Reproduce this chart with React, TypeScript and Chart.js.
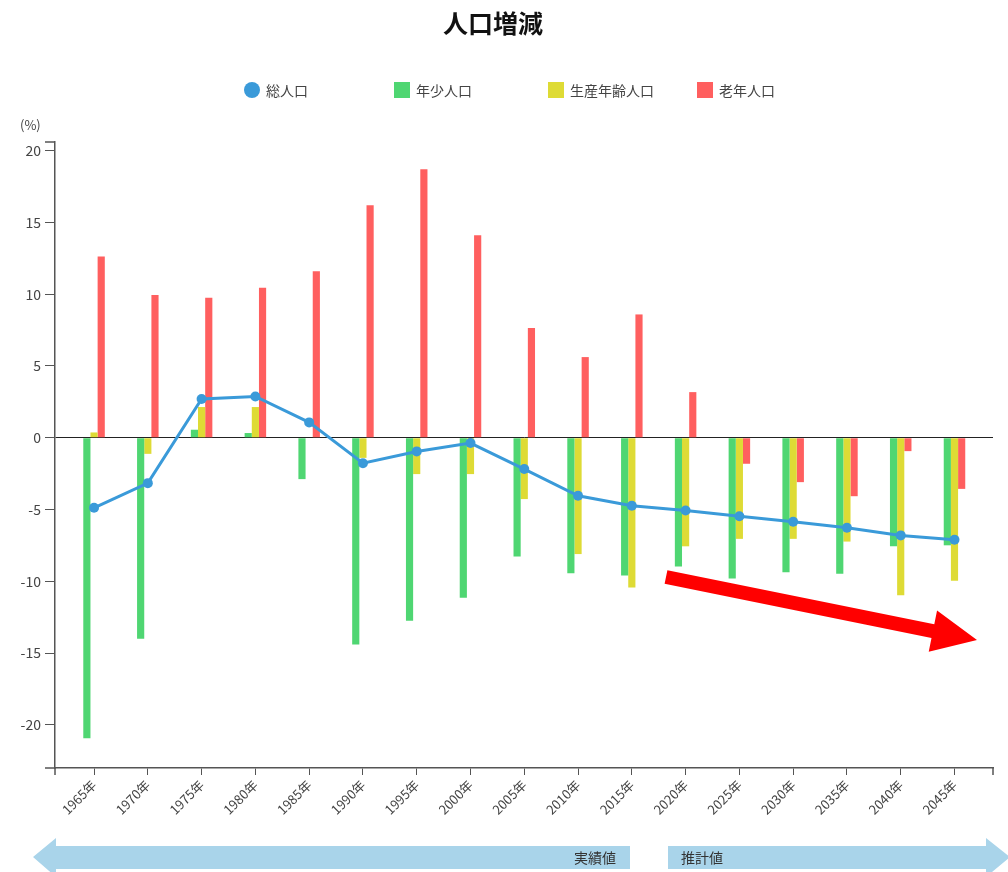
import React, { useEffect, useRef } from "react";
import { Chart, registerables } from "chart.js";

Chart.register(...registerables);

const title = "人口増減";
const seriesNames = ["総人口", "年少人口", "生産年齢人口", "老年人口"];
const years = [1965, 1970, 1975, 1980, 1985, 1990, 1995, 2000, 2005, 2010, 2015, 2020, 2025, 2030, 2035, 2040, 2045];
const total = [-4.88, -3.16, 2.7, 2.88, 1.07, -1.77, -0.95, -0.37, -2.18, -4.04, -4.74, -5.06, -5.46, -5.85, -6.27, -6.8, -7.1];
const young = [-20.93, -14.0, 0.56, 0.33, -2.88, -14.4, -12.74, -11.14, -8.27, -9.43, -9.6, -8.96, -9.81, -9.36, -9.47, -7.56, -7.49];
const working = [0.37, -1.12, 2.14, 2.14, 0, -1.4, -2.53, -2.53, -4.27, -8.1, -10.43, -7.56, -7.04, -7.04, -7.23, -10.97, -9.95];
const elderly = [12.63, 9.95, 9.76, 10.45, 11.6, 16.2, 18.7, 14.1, 7.64, 5.62, 8.59, 3.18, -1.81, -3.09, -4.07, -0.93, -3.56];
const yTicks = [-20, -15, -10, -5, 0, 5, 10, 15, 20];
const yUnit = "(%)";
const actualLabel = "実績値";
const forecastLabel = "推計値";

const colors = ["#3a9ad9", "#4fd672", "#dedb35", "#ff5f5f"];
const FONT = "'Noto Sans CJK JP', 'Noto Sans', sans-serif";

const toPts = (arr: number[]) => arr.map((v, i) => ({ x: years[i], y: v }));

const annotations = {
  id: "annotations",
  afterDraw(chart: any) {
    const ctx = chart.ctx;
    const { left, right, bottom, top } = chart.chartArea;
    ctx.save();
    // outer ticks
    ctx.strokeStyle = "#555";
    ctx.lineWidth = 1.5;
    ctx.beginPath();
    ctx.moveTo(left - 10, top);
    ctx.lineTo(left, top);
    ctx.moveTo(left - 10, bottom);
    ctx.lineTo(left, bottom);
    ctx.moveTo(left, bottom);
    ctx.lineTo(left, bottom + 7);
    ctx.moveTo(right, bottom);
    ctx.lineTo(right, bottom + 7);
    ctx.stroke();

    // bottom bands
    ctx.fillStyle = "#a9d4ea";
    ctx.beginPath();
    ctx.moveTo(56, 846);
    ctx.lineTo(630, 846);
    ctx.lineTo(630, 869);
    ctx.lineTo(56, 869);
    ctx.lineTo(56, 877);
    ctx.lineTo(33, 857);
    ctx.lineTo(56, 838);
    ctx.closePath();
    ctx.fill();
    ctx.beginPath();
    ctx.moveTo(668, 846);
    ctx.lineTo(986, 846);
    ctx.lineTo(986, 838);
    ctx.lineTo(1010, 857);
    ctx.lineTo(986, 877);
    ctx.lineTo(986, 869);
    ctx.lineTo(668, 869);
    ctx.closePath();
    ctx.fill();
    ctx.fillStyle = "#333";
    ctx.font = "14px " + FONT;
    ctx.textBaseline = "middle";
    ctx.textAlign = "right";
    ctx.fillText(actualLabel, 616, 858);
    ctx.textAlign = "left";
    ctx.fillText(forecastLabel, 681, 858);

    // red trend arrow
    const x0 = 666, y0 = 577, x1 = 977, y1 = 640;
    const len = Math.hypot(x1 - x0, y1 - y0);
    const ux = (x1 - x0) / len, uy = (y1 - y0) / len;
    const px = -uy, py = ux;
    const hl = 45, hw = 21, sw = 7;
    const bx = x1 - hl * ux, by = y1 - hl * uy;
    ctx.fillStyle = "#ff0000";
    ctx.beginPath();
    ctx.moveTo(x0 + sw * px, y0 + sw * py);
    ctx.lineTo(bx + sw * px, by + sw * py);
    ctx.lineTo(bx + hw * px, by + hw * py);
    ctx.lineTo(x1, y1);
    ctx.lineTo(bx - hw * px, by - hw * py);
    ctx.lineTo(bx - sw * px, by - sw * py);
    ctx.lineTo(x0 - sw * px, y0 - sw * py);
    ctx.closePath();
    ctx.fill();
    ctx.restore();
  },
};

export default function App() {
  const ref = useRef<HTMLCanvasElement | null>(null);
  useEffect(() => {
    if (!ref.current) return;
    Chart.defaults.font.family = FONT;
    const chart = new Chart(ref.current, {
      type: "bar",
      data: {
        datasets: [
          {
            type: "line",
            label: seriesNames[0],
            data: toPts(total),
            borderColor: colors[0],
            backgroundColor: colors[0],
            borderWidth: 3,
            pointRadius: 5,
            pointBorderWidth: 0,
            tension: 0,
            order: 0,
          } as any,
          { label: seriesNames[1], data: toPts(young), backgroundColor: colors[1], order: 1 },
          { label: seriesNames[2], data: toPts(working), backgroundColor: colors[2], order: 1 },
          { label: seriesNames[3], data: toPts(elderly), backgroundColor: colors[3], order: 1 },
        ],
      },
      options: {
        responsive: false,
        animation: false,
        layout: { padding: { top: 142, right: 15, bottom: 0, left: 0 } },
        datasets: { bar: { categoryPercentage: 0.4, barPercentage: 1 } } as any,
        plugins: { legend: { display: false }, tooltip: { enabled: false }, title: { display: false } },
        scales: {
          x: {
            type: "linear",
            offset: false,
            min: 1961.37,
            max: 2048.58,
            afterBuildTicks: (axis: any) => {
              axis.ticks = years.map((v) => ({ value: v }));
            },
            afterFit: (s: any) => {
              s.height = 104;
            },
            ticks: {
              autoSkip: false,
              minRotation: 45,
              maxRotation: 45,
              color: "#444",
              font: { size: 13 },
              padding: 2,
              callback: (v: any) => v + "年",
            },
            grid: { offset: false, drawOnChartArea: false, drawTicks: true, tickLength: 7, tickColor: "#555" },
            border: { display: true, color: "#555", width: 1.5 },
          },
          y: {
            min: -23,
            max: 20.6,
            afterBuildTicks: (axis: any) => {
              axis.ticks = yTicks.map((v) => ({ value: v }));
            },
            afterFit: (s: any) => {
              s.width = 55;
            },
            ticks: { color: "#444", font: { size: 14 }, padding: 4 },
            grid: {
              color: (c: any) => (c.tick && c.tick.value === 0 ? "#222" : "rgba(0,0,0,0)"),
              lineWidth: 1,
              tickColor: "#555",
              tickLength: 10,
              drawTicks: true,
            },
            border: { display: true, color: "#555", width: 1.5 },
          },
        },
      },
      plugins: [annotations],
    });
    return () => chart.destroy();
  }, []);

  const legendX = [244, 394, 548, 697];
  return (
    <div style={{ position: "absolute", left: 0, top: 0, width: 1008, height: 872, background: "#fff", fontFamily: FONT }}>
      <canvas ref={ref} width={1008} height={872} style={{ position: "absolute", left: 0, top: 0, width: 1008, height: 872 }} />
      <div style={{ position: "absolute", left: 0, top: 4, width: 986, textAlign: "center", fontSize: 25, fontWeight: "bold", color: "#111" }}>
        {title}
      </div>
      {seriesNames.map((n, i) => (
        <div key={n} style={{ position: "absolute", left: legendX[i], top: 80, height: 20, display: "flex", alignItems: "center" }}>
          <span
            style={{
              display: "inline-block",
              width: 16,
              height: 16,
              background: colors[i],
              borderRadius: i === 0 ? 8 : 0,
              marginRight: 6,
            }}
          />
          <span style={{ fontSize: 14, color: "#444" }}>{n}</span>
        </div>
      ))}
      <div style={{ position: "absolute", left: 20, top: 115, fontSize: 13, color: "#444" }}>{yUnit}</div>
    </div>
  );
}
